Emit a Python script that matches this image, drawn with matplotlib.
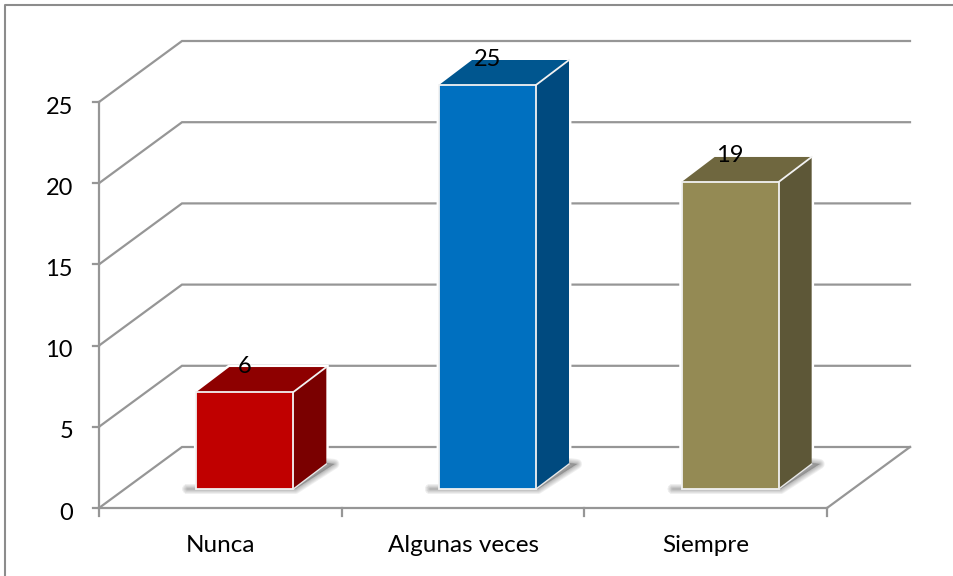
import matplotlib
matplotlib.use("Agg")
import matplotlib.pyplot as plt
from matplotlib.lines import Line2D
from matplotlib.patches import Polygon

categories = ["Nunca", "Algunas veces", "Siempre"]
values = [6, 25, 19]
yticks = [0, 5, 10, 15, 20, 25]
front_colors = ["#C00000", "#0070C0", "#948A54"]
top_colors = ["#8E0000", "#00568F", "#6F673F"]
side_colors = ["#7A0000", "#004A7F", "#5D5737"]

plt.rcParams["font.family"] = ["Lato", "DejaVu Sans"]

W, H = 954, 576
GREY = "#969696"
X0, Y0 = 99, 508     # pixel position of the chart origin
UX, UY = 242.67, 16.24   # pixels per category, pixels per value unit

fig = plt.figure(figsize=(W / 100, H / 100), dpi=100, facecolor="white")
ax = fig.add_axes([0, 0, 1, 1])
ax.set_xlim(-X0 / UX, (W - X0) / UX)
ax.set_ylim(-(H - Y0) / UY, Y0 / UY)
ax.axis("off")


# offsets are given in pixels, converted to data units
def pt(x, y, ox=0, oy=0):
    return (x + ox / UX, y + oy / UY)


# wall depth
DX, DY = 83, 61
# bar depth
BX, BY = 33, 25
LW = 1.6

# outer frame, only left and top show in the reference
fig.add_artist(Line2D([5.5 / W, 5.5 / W, 1], [0, 1 - 4.5 / H, 1 - 4.5 / H], color="#8C8C8C", lw=1.5))

# walls and grid
for v in yticks:
    xs, ys = zip(pt(0, v), pt(0, v, DX, DY), pt(3, v, DX, DY))
    ax.plot(xs, ys, color=GREY, lw=LW, zorder=2, solid_joinstyle="miter")
    xs, ys = zip(pt(0, v, -6, 0), pt(0, v))
    ax.plot(xs, ys, color=GREY, lw=LW, zorder=2)
    ax.text(*pt(0, v, -26, -3), str(v), ha="right", va="center_baseline", fontsize=17, color="black")

ax.plot([0, 0], [0, yticks[-1]], color=GREY, lw=LW, zorder=2)
ax.plot([0, 3], [0, 0], color=GREY, lw=LW, zorder=2)
xs, ys = zip(pt(3, 0), pt(3, 0, DX, DY))
ax.plot(xs, ys, color=GREY, lw=LW, zorder=2)
for i in range(4):
    xs, ys = zip(pt(i, 0), pt(i, 0, 0, -8))
    ax.plot(xs, ys, color=GREY, lw=LW, zorder=2)

for i, name in enumerate(categories):
    ax.text(*pt(i + 0.5, 0, 0, -37), name, ha="center", va="center", fontsize=17.5, color="black")

# bars
BAR_W = 97
for i, v in enumerate(values):
    h = v * 16.16 / UY
    c = pt(i + 0.5, 0, 24.5, 19)
    l = pt(c[0], 0, -BAR_W / 2, 0)[0]
    r = pt(c[0], 0, BAR_W / 2, 0)[0]
    b = c[1]
    t = b + h
    front = [(l, b), (r, b), (r, t), (l, t)]
    side = [(r, b), pt(r, b, BX, BY), pt(r, t, BX, BY), (r, t)]
    top = [(l, t), (r, t), pt(r, t, BX, BY), pt(l, t, BX, BY)]

    # white halo hides the grid next to the bar
    ax.add_patch(Polygon([(l, b), (r, b), pt(r, b, BX, BY), pt(r, t, BX, BY), pt(l, t, BX, BY), (l, t)],
                         closed=True, fc="white", ec="white", lw=3.5, zorder=2.5))

    # soft shadow on the floor
    shadow = [pt(l, b, -9, 0), pt(r, b, 2, 0), pt(r, b, BX + 8, BY), pt(r, b, BX, BY + 1), (r, b), (l, b)]
    for w in [10, 8, 6, 4, 2.5, 1]:
        ax.add_patch(Polygon(shadow, closed=True, fc="#6A6A6A", ec="#6A6A6A", lw=w * 0.72,
                             alpha=0.1, joinstyle="round", zorder=3))

    ax.add_patch(Polygon(top, closed=True, fc=top_colors[i], ec="none", zorder=4))
    ax.add_patch(Polygon(side, closed=True, fc=side_colors[i], ec="none", zorder=4))
    ax.add_patch(Polygon(front, closed=True, fc=front_colors[i], ec="#F2F2F2", lw=1.3, zorder=5))
    xs, ys = zip((r, t), pt(r, t, BX, BY))
    ax.plot(xs, ys, color="#F2F2F2", lw=1.3, zorder=5)
    xs, ys = zip((r, b), pt(r, b, BX, BY))
    ax.plot(xs, ys, color="#E8E8E8", lw=1.0, zorder=5)

    ax.text(*pt(c[0], t, 0, 28), str(v), ha="center", va="center_baseline", fontsize=17, color="black", zorder=6)

fig.savefig("out.png", dpi=100, facecolor="white")
